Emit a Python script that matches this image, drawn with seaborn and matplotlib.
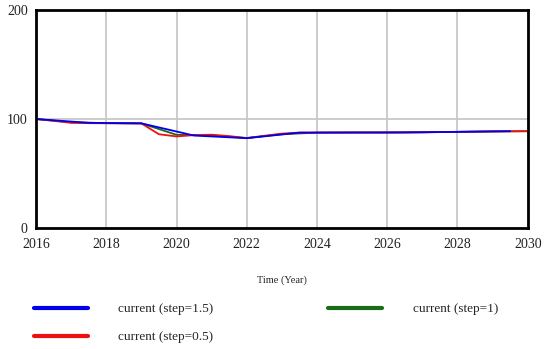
import matplotlib
matplotlib.use("Agg")
import matplotlib.pyplot as plt
import seaborn as sns
import pandas as pd
from matplotlib.lines import Line2D

# Data
t_15 = [2016, 2017.5, 2019, 2020.5, 2022, 2023.5, 2025, 2026.5, 2028, 2029.5]
v_15 = [100, 96.5, 96, 84.8, 82.4, 87.5, 87.6, 87.7, 88.2, 88.8]

t_1 = [2016, 2017, 2018, 2019, 2020, 2021, 2022, 2023, 2024, 2025, 2026, 2027, 2028, 2029, 2030]
v_1 = [100, 97, 96.2, 96, 85.5, 85, 82.5, 86, 87.5, 87.6, 87.6, 87.8, 88.2, 88.6, 88.8]

t_05 = [2016, 2016.5, 2017, 2017.5, 2018, 2018.5, 2019, 2019.5, 2020, 2020.5, 2021, 2021.5,
        2022, 2022.5, 2023, 2023.5, 2024, 2025, 2026, 2027, 2028, 2029, 2030]
v_05 = [100, 98.3, 96.5, 96.2, 96.1, 96, 96, 86, 84, 85.2, 85.6, 84.3,
        82.5, 84.6, 86.6, 87.5, 87.5, 87.6, 87.6, 87.8, 88.2, 88.6, 88.8]

labels = ["current (step=1.5)", "current (step=1)", "current (step=0.5)"]
colors = ["#0000ee", "#1a6b1a", "#ee1010"]

df = pd.concat([
    pd.DataFrame({"Time": t_1, "Value": v_1, "Series": labels[1]}),
    pd.DataFrame({"Time": t_05, "Value": v_05, "Series": labels[2]}),
    pd.DataFrame({"Time": t_15, "Value": v_15, "Series": labels[0]}),
])

sns.set_style("white")
plt.rcParams["font.family"] = ["Liberation Serif", "DejaVu Serif"]

fig = plt.figure(figsize=(5.5, 3.49), dpi=100)
ax = fig.add_axes([0.0655, 0.347, 0.894, 0.624])

sns.lineplot(data=df, x="Time", y="Value", hue="Series",
             hue_order=[labels[1], labels[2], labels[0]],
             palette={labels[0]: colors[0], labels[1]: colors[1], labels[2]: colors[2]},
             linewidth=1.3, ax=ax, legend=False, sort=False)

ax.set_xlim(2016, 2030)
ax.set_ylim(0, 200)
ax.set_xticks(range(2016, 2031, 2))
ax.set_yticks([0, 100, 200])
ax.grid(True, color="#c8c8c8", linewidth=1.3)
ax.set_axisbelow(True)
for s in ax.spines.values():
    s.set_color("black")
    s.set_linewidth(2)
ax.tick_params(axis="both", length=0, labelsize=10, colors="#222222")
ax.tick_params(axis="x", pad=7)
ax.tick_params(axis="y", pad=6)
ax.set_xlabel("Time (Year)", fontsize=7.5, labelpad=18)
ax.set_ylabel("")

handles = [Line2D([0], [0], color=colors[0], lw=3),
           Line2D([0], [0], color=colors[2], lw=3),
           Line2D([0], [0], color=colors[1], lw=3)]
leg_labels = [labels[0], labels[2], labels[1]]
fig.legend(handles, leg_labels, ncol=2, loc="upper left",
           bbox_to_anchor=(0.04, 0.166), frameon=False, fontsize=9.5,
           handlelength=4.1, handletextpad=2.3, columnspacing=8.7,
           labelspacing=1.2)

fig.savefig("out.png", dpi=100)
